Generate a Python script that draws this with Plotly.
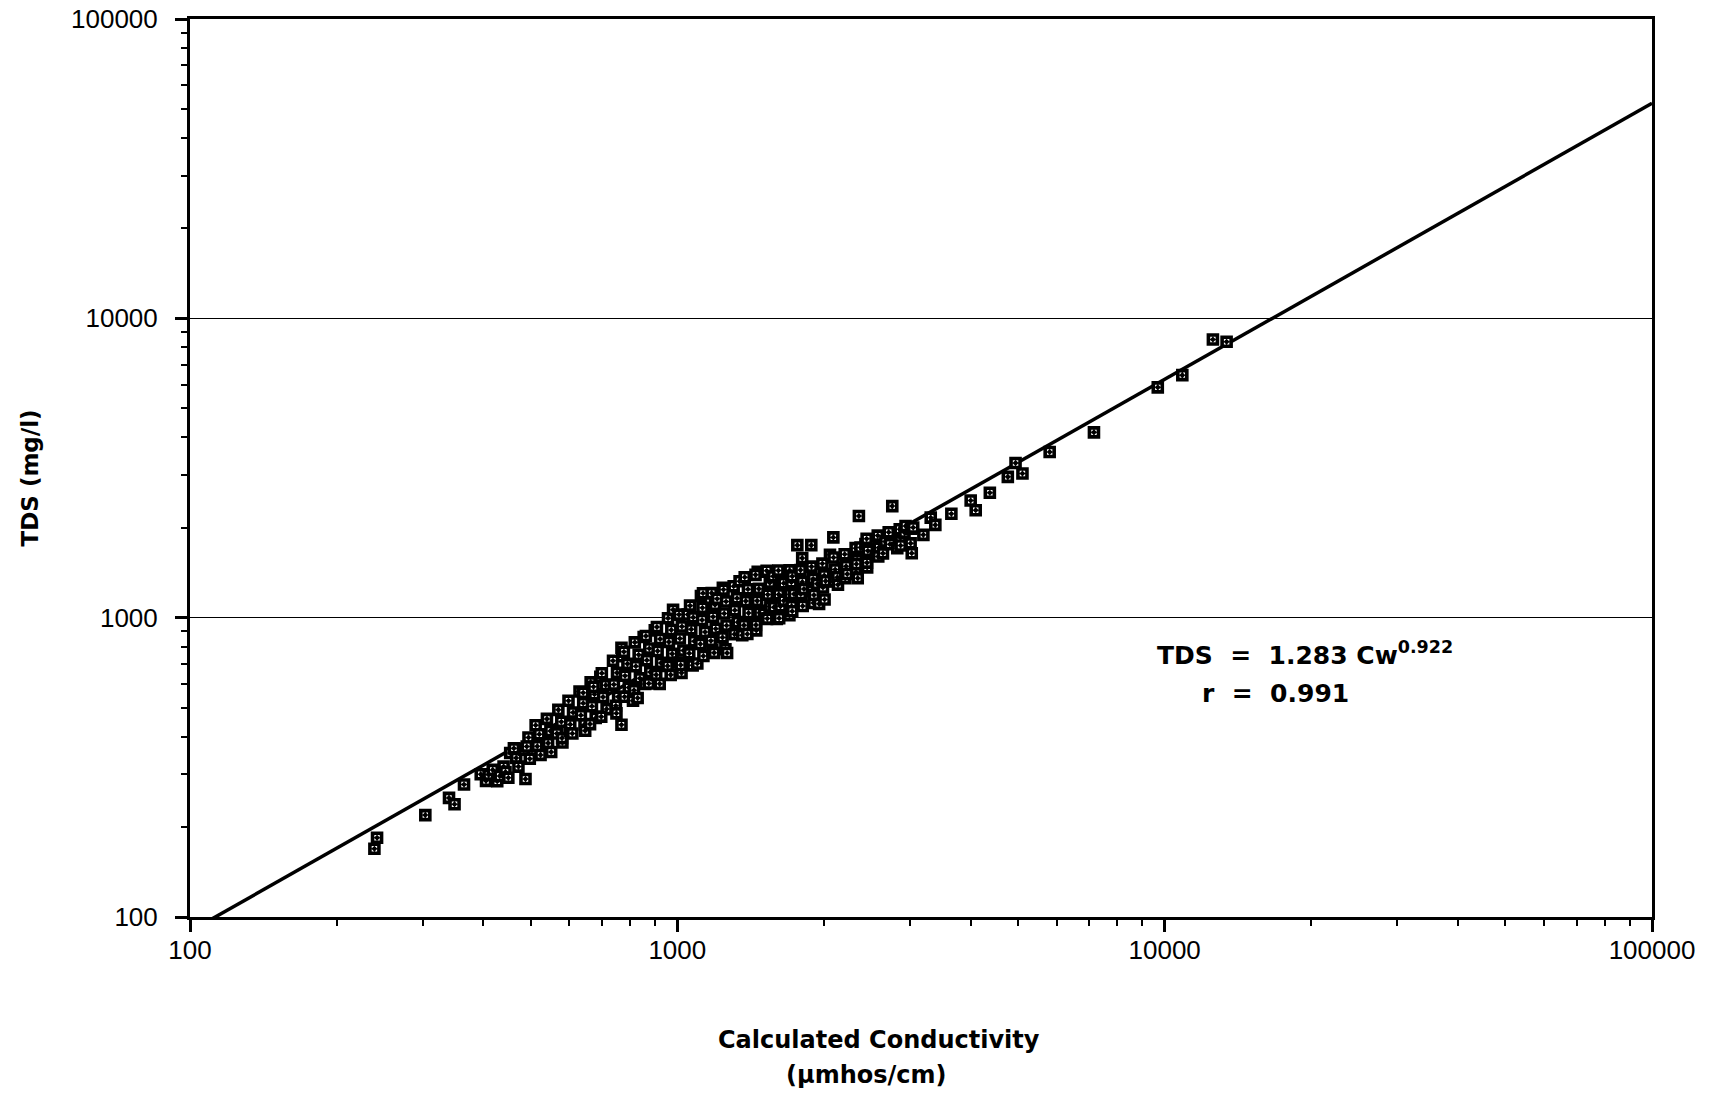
import plotly.graph_objects as go

# Calculated conductivity (µmhos/cm) of each sample, grouped left to right
conductivity = (
    [239, 242, 304, 340, 349, 365]
    + [395, 405, 410, 418, 427, 432, 440, 444, 450, 454, 462, 467, 472, 484, 488]
    + [495, 491, 498, 512, 521, 516, 524, 540, 549, 543, 551]
    + [570, 578, 566, 581, 580, 601, 598, 611, 603, 609, 630, 641, 634, 645, 647]
    + [641, 664, 676, 668, 680, 662, 673, 695, 700, 713, 704, 716, 698]
    + [738, 752, 741, 756, 748, 750, 768, 768, 771, 777, 790, 781, 795, 779]
    + [811, 818, 833, 822, 838, 815, 829, 853, 862, 876, 866, 880, 859, 874]
    + [899, 908, 922, 911, 926, 905, 920, 957, 972, 961, 976, 955, 969, 980,
       1008, 1022, 1012, 1029, 1004, 1020, 1016]
    + [1050, 1062, 1078, 1068, 1083, 1058, 1075, 1099, 1118, 1135, 1124, 1140,
       1115, 1131, 1129, 1126, 1180, 1176, 1195, 1184, 1199, 1172, 1190]
    + [1207, 1240, 1244, 1259, 1248, 1262, 1238, 1255, 1265, 1305, 1326, 1312,
       1330, 1310, 1342]
    + [1359, 1375, 1396, 1382, 1400, 1370, 1392, 1452, 1462, 1447, 1470, 1458,
       1475, 1450, 1506, 1528, 1525, 1548, 1533, 1552, 1530]
    + [1573, 1578, 1600, 1612, 1630, 1615, 1628, 1618, 1653, 1653, 1700, 1714,
       1703, 1716, 1698, 1721, 1721]
    + [1735, 1763, 1790, 1805, 1792, 1808, 1804, 1819, 1883, 1885, 1900, 1888,
       1902, 1907, 1936, 1954, 1985, 2002, 1990, 2005]
    + [2015, 2057, 2090, 2092, 2108, 2098, 2130, 2136, 2205, 2220, 2210, 2232,
       2322, 2338, 2326, 2331, 2345, 2358, 2376, 2432, 2452, 2446, 2460, 2450]
    + [2552, 2578, 2590, 2584, 2642, 2673, 2715, 2730, 2761, 2827, 2860, 2870,
       2872, 2925, 2940, 3011, 3019, 3027, 3048]
    + [3198, 3311, 3384, 3650, 3999, 4095, 4378, 4766, 4943, 5107, 5808, 7160,
       9680, 10870, 12560, 13400]
)

# Measured total dissolved solids (mg/l), same order as conductivity
tds = (
    [169, 184, 219, 250, 238, 277]
    + [300, 285, 299, 310, 284, 296, 318, 305, 292, 353, 366, 340, 318, 362, 289]
    + [398, 371, 338, 437, 408, 372, 348, 459, 418, 381, 356]
    + [492, 449, 410, 383, 396, 419, 528, 482, 440, 410, 567, 518, 472, 440, 419]
    + [561, 608, 555, 506, 462, 441, 588, 634, 652, 595, 543, 495, 467]
    + [718, 654, 598, 544, 508, 479, 793, 439, 743, 769, 701, 640, 584, 544]
    + [528, 827, 752, 688, 627, 572, 539, 862, 868, 789, 721, 658, 600, 603]
    + [907, 931, 849, 774, 706, 644, 601, 996, 910, 830, 757, 690, 644, 1062,
       1024, 934, 852, 777, 708, 654, 695]
    + [1025, 1097, 1002, 914, 834, 760, 693, 703, 1181, 1077, 982, 896,
       817, 745, 1207, 1079, 778, 1208, 1104, 1007, 918, 837, 763]
    + [1157, 1259, 1241, 1132, 1032, 942, 859, 784, 762, 1273, 1161, 1059,
       966, 881, 1324]
    + [874, 1365, 1245, 1136, 1036, 944, 882, 907, 1424, 1390, 1248, 1138,
       1038, 946, 1031, 991, 1435, 1309, 1194, 1089, 993]
    + [1374, 1084, 991, 1438, 1312, 1196, 1091, 995, 1303, 1140, 1439, 1313,
       1197, 1092, 1019, 1374, 1051]
    + [1200, 1747, 1442, 1315, 1199, 1094, 1581, 1247, 1747, 1481, 1347, 1228,
       1120, 1191, 1297, 1112, 1516, 1383, 1261, 1150]
    + [1325, 1623, 1854, 1589, 1449, 1322, 1365, 1289, 1629, 1486, 1355, 1399,
       1707, 1557, 1420, 1510, 1355, 2187, 1715, 1761, 1472, 1835, 1674, 1527]
    + [1611, 1880, 1714, 1600, 1640, 1795, 1928, 1758, 2359, 1706, 1974, 1800,
       1743, 1924, 2024, 1771, 1981, 1641, 2000]
    + [1891, 2158, 2041, 2225, 2464, 2285, 2614, 2954, 3288, 3030, 3578, 4160,
       5880, 6460, 8500, 8350]
)

# Power-law fit TDS = a * Cw^b and its correlation coefficient
FIT_COEF = 1.283
FIT_EXP = 0.922
FIT_R = 0.991

fit_x = [100, 100000]
fit_y = [FIT_COEF * c ** FIT_EXP for c in fit_x]

# Decade ticks on both log axes
tick_vals = [100, 1000, 10000, 100000]
tick_text = ["100", "1000", "10000", "100000"]

TICK_FONT = dict(family="Liberation Sans, Arial, sans-serif", size=26, color="black")
BOLD_FONT = "DejaVu Sans, Verdana, sans-serif"

fig = go.Figure()

fig.add_trace(go.Scatter(
    x=fit_x, y=fit_y, mode="lines",
    line=dict(color="black", width=3.5),
    hoverinfo="skip", showlegend=False,
))

# Heavy black square outline with a white centre and a small centre dot
fig.add_trace(go.Scatter(
    x=conductivity, y=tds, mode="markers",
    marker=dict(symbol="square-dot", size=9, color="white",
                line=dict(color="black", width=3.6)),
    showlegend=False,
))

axis_common = dict(
    type="log",
    range=[2, 5],
    tickmode="array",
    tickvals=tick_vals,
    ticktext=tick_text,
    ticks="outside",
    ticklen=12,
    tickwidth=2.5,
    tickcolor="black",
    showline=True,
    linewidth=3,
    linecolor="black",
    mirror=True,
    zeroline=False,
    automargin=False,
    tickfont=TICK_FONT,
    minor=dict(ticks="outside", ticklen=6, tickwidth=2, tickcolor="black",
               showgrid=False, dtick="D1"),
)

fig.update_xaxes(**axis_common, showgrid=False, ticklabelstandoff=-4)
fig.update_yaxes(**axis_common, showgrid=True, gridcolor="black", gridwidth=1.2,
                 ticklabelstandoff=12)

annotations = [
    dict(text="<b>Calculated Conductivity</b>", x=0.4713, y=-0.1370,
         xanchor="center", yanchor="middle", font=dict(family=BOLD_FONT, size=24)),
    dict(text="<b>(µmhos/cm)</b>", x=0.4624, y=-0.1760,
         xanchor="center", yanchor="middle", font=dict(family=BOLD_FONT, size=24)),
    dict(text="<b>TDS (mg/l)</b>", x=-0.1094, y=0.4884, textangle=-90,
         xanchor="center", yanchor="middle", font=dict(family=BOLD_FONT, size=23)),
    dict(text=f"<b>TDS  =  {FIT_COEF} Cw<sup>{FIT_EXP}</sup></b>", x=0.660, y=0.2930,
         xanchor="left", yanchor="middle", font=dict(family=BOLD_FONT, size=25)),
    dict(text=f"<b>r  =  {FIT_R}</b>", x=0.6908, y=0.2490,
         xanchor="left", yanchor="middle", font=dict(family=BOLD_FONT, size=25)),
]
for a in annotations:
    a.update(xref="paper", yref="paper", showarrow=False)
    a["font"]["color"] = "black"

fig.update_layout(
    width=1720,
    height=1097,
    margin=dict(l=190, r=68, t=19, b=180),
    paper_bgcolor="white",
    plot_bgcolor="white",
    annotations=annotations,
    showlegend=False,
)

fig.write_html("out.html")
